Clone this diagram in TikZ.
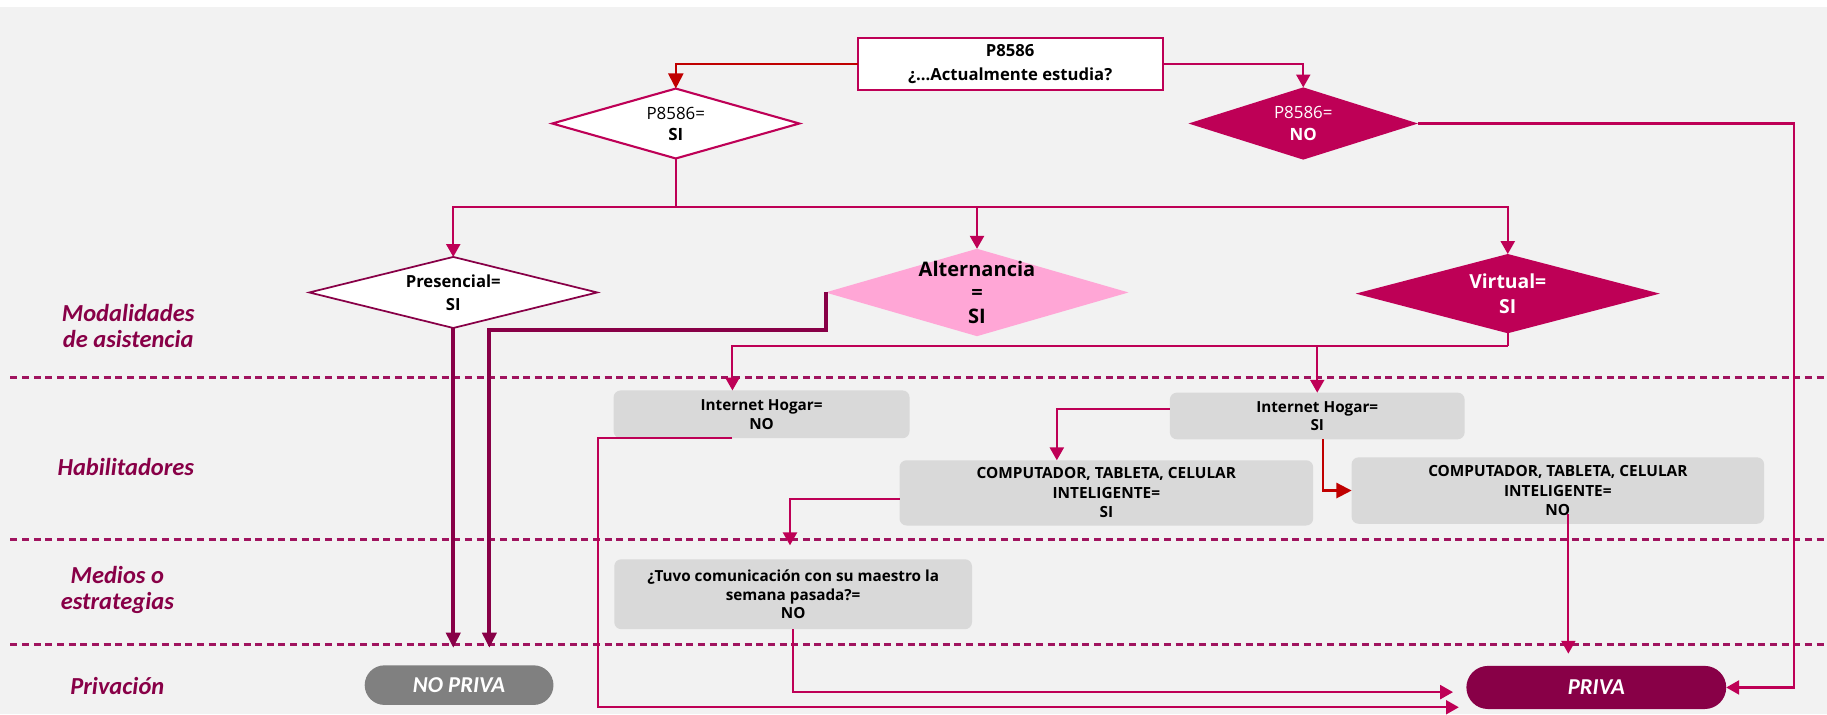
\documentclass[tikz,border=0pt]{standalone}
\usepackage{fontspec}
\setmainfont{Carlito}
\newfontfamily\osans{Open Sans}
\usetikzlibrary{arrows.meta,shapes.geometric}
\definecolor{bggray}{RGB}{242,242,242}
\definecolor{mag}{RGB}{190,0,86}
\definecolor{maroon}{RGB}{136,0,71}
\definecolor{redc}{RGB}{192,0,0}
\definecolor{pinkc}{RGB}{255,166,214}
\definecolor{boxgray}{RGB}{217,217,217}
\definecolor{grayc}{RGB}{128,128,128}
\definecolor{sepc}{RGB}{160,20,95}
\newcommand{\myfs}[2]{\fontsize{#1}{#2}\selectfont}
\begin{document}
\begin{tikzpicture}[x=1pt,y=-1pt,
  every node/.style={inner sep=0pt,outer sep=0pt},
  conn/.style={draw=mag,line width=1.8pt},
  arr/.style={conn,-{Triangle[length=11pt,width=12pt]}},
  arrred/.style={draw=redc,line width=1.8pt,-{Triangle[length=13pt,width=13pt]}},
  thk/.style={draw=maroon,line width=3.5pt,-{Triangle[length=13pt,width=12pt]}},
  sepline/.style={draw=sepc,line width=2pt,dash pattern=on 6pt off 4pt},
  dia/.style={diamond,aspect=3},
  gbox/.style={fill=boxgray,rounded corners=6pt,align=center,font=\osans\myfs{13.1}{16}\bfseries},
  sidelab/.style={text=maroon,align=center,font=\myfs{21}{22}\bfseries\itshape},
  endbox/.style={text=white,font=\myfs{19.5}{20}\bfseries\itshape}
]
\useasboundingbox (0,0) rectangle (1568,613);
\fill[white] (0,0) rectangle (1568,613);
\fill[bggray] (0,6) rectangle (1568,613);

% separators
\draw[sepline] (9,324) -- (1568,324);
\draw[sepline] (9,463) -- (1568,463);
\draw[sepline] (9,553) -- (1568,553);

% side labels
\node[sidelab] (lab1) at (110,280) {Modalidades\\de asistencia};
\node[sidelab] (lab2) at (108,400.4) {Habilitadores};
\node[sidelab] (lab3) at (100.7,506.6) {Medios o\\estrategias};
\node[sidelab] (lab4) at (100.7,589) {Privación};

% top
\node[draw=mag,line width=1.8pt,fill=white,minimum width=262pt,minimum height=45pt,
  align=center,font=\osans\myfs{14.3}{21}\bfseries] (top) at (867,55) {P8586\\¿...Actualmente estudia?};

% diamonds
\node[dia,draw=mag,line width=1.8pt,fill=white,minimum width=212pt,minimum height=60pt,
  label={[align=center,font=\osans\myfs{14.5}{18}]center:{P8586=\\\textbf{SI}}}] (si) at (580,106) {};
\node[dia,fill=mag,minimum width=197pt,minimum height=62pt,
  label={[align=center,text=white,font=\osans\myfs{14.5}{19}]center:{P8586=\\\textbf{NO}}}] (no) at (1118.5,106) {};
\node[dia,draw=maroon,line width=1.5pt,fill=white,minimum width=247pt,minimum height=61pt,
  label={[align=center,font=\osans\myfs{14.3}{19.5}\bfseries]center:{Presencial=\\SI}}] (pres) at (389,251) {};
\node[dia,fill=pinkc,minimum width=260pt,minimum height=75pt,
  label={[align=center,font=\osans\myfs{17.2}{20}\bfseries]center:{Alternancia\\=\\SI}}] (alt) at (838.5,251) {};
\node[dia,fill=mag,minimum width=261pt,minimum height=68pt,
  label={[align=center,text=white,font=\osans\myfs{16.6}{21}\bfseries]center:{Virtual=\\SI}}] (virt) at (1294,252) {};

% boxes
\node[gbox,minimum width=254pt,minimum height=41pt] (ihno) at (653.6,355.6) {Internet Hogar=\\NO};
\node[gbox,minimum width=253pt,minimum height=40pt] (ihsi) at (1130.5,357) {Internet Hogar=\\SI};
\node[gbox,minimum width=355pt,minimum height=56pt,font=\osans\myfs{13.2}{16.7}\bfseries] (ctcsi) at (949.5,423) {COMPUTADOR, TABLETA, CELULAR\\INTELIGENTE=\\SI};
\node[gbox,minimum width=354pt,minimum height=57pt,font=\osans\myfs{13.2}{16.7}\bfseries] (ctcno) at (1337,421) {COMPUTADOR, TABLETA, CELULAR\\INTELIGENTE=\\NO};
\node[gbox,minimum width=307pt,minimum height=60pt] (med) at (680.7,510) {¿Tuvo comunicación con su maestro la\\semana pasada?=\\NO};

% outcomes
\node[endbox,fill=grayc,minimum width=162pt,minimum height=34pt,rounded corners=17pt] (nopriva) at (394,588) {NO PRIVA};
\node[endbox,fill=maroon,minimum width=223pt,minimum height=37pt,rounded corners=18.5pt] (priva) at (1370,590) {PRIVA};

% coordinates
\coordinate (j1) at (580,178);
\coordinate (j2) at (1294,297);
\coordinate (np1) at (389,556);
\coordinate (np2) at (420,556);
\coordinate (pin1) at (1247,594);
\coordinate (pin2) at (1252,607);
\coordinate (pin3) at (1346,561);
\coordinate (medtop) at (678,468);

% connectors
\draw[arrred] (top.west) -| (si.north);
\draw[arr] (top.east) -| (no.north);
\draw[conn] (si.south) -- (j1);
\draw[arr] (j1) -| (pres.north);
\draw[arr] (j1) -| (alt.north);
\draw[arr] (j1) -| (virt.north);
\draw[arr] (no.east) -| (1540,590) -- (priva.east);
\draw[thk] (pres.south) -- (np1);
\draw[thk] (alt.west) |- (420,283) -- (np2);
\draw[conn] (virt.south) -- (j2);
\draw[arr] (j2) -| ([xshift=-25pt]ihno.north);
\draw[arr] (j2) -| (ihsi.north);
\draw[arr] ([xshift=-25pt]ihno.south) -| (513.5,607) -- (pin2);
\draw[arr] ([yshift=6pt]ihsi.west) -| ([xshift=-42.5pt]ctcsi.north);
\draw[arrred] ([xshift=5pt]ihsi.south) |- (ctcno.west);
\draw[arr] ([yshift=-5pt]ctcsi.west) -| (medtop);
\draw[arr] ([xshift=9pt,yshift=-20pt]ctcno.center) -- (pin3);
\draw[arr] (med.south) |- (pin1);
\end{tikzpicture}
\end{document}
